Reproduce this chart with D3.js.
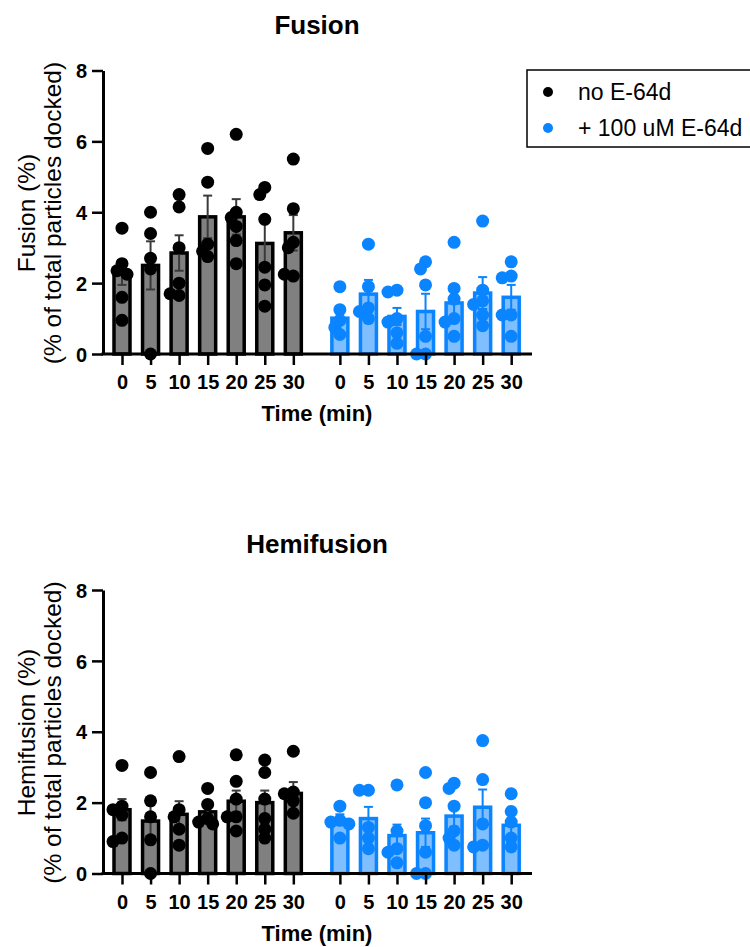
<!DOCTYPE html>
<html>
<head>
<meta charset="utf-8">
<script src="https://cdn.jsdelivr.net/npm/d3@7"></script>
<style>
  body { margin: 0; background: #fff; }
  svg { display: block; font-family: "Liberation Sans", Arial, sans-serif; }
</style>
</head>
<body>
<div id="box"></div>
<script>
// time points (min) and the two treatment groups
const times = ['0', '5', '10', '15', '20', '25', '30'];
const groups = ['no E-64d', '+ 100 uM E-64d'];
const yTicks = [0, 2, 4, 6, 8];

// Fusion, no E-64d
const fusionCtrlMean = [2.3, 2.5, 2.85, 3.87, 3.87, 3.12, 3.42];
const fusionCtrlSem = [0.35, 0.68, 0.5, 0.6, 0.5, 0.65, 0.5];
const fusionCtrlPts = [
  [3.55, 2.55, 2.35, 2.25, 1.6, 0.95],
  [4.0, 3.4, 2.7, 2.4, 0],
  [4.5, 4.15, 3.0, 2.0, 1.65, 1.7],
  [5.8, 4.85, 3.1, 2.75, 2.9],
  [6.2, 4.0, 3.85, 3.6, 3.2, 2.55],
  [4.7, 4.5, 3.8, 2.45, 1.95, 1.35],
  [5.5, 4.1, 3.15, 3.0, 2.2, 2.25]
];
// Fusion, + E-64d
const fusionE64Mean = [1.01, 1.69, 1.06, 1.2, 1.44, 1.72, 1.6];
const fusionE64Sem = [0.15, 0.4, 0.24, 0.5, 0.35, 0.45, 0.35];
const fusionE64Pts = [
  [1.9, 1.25, 0.95, 0.75, 0.55],
  [3.1, 1.9, 1.3, 1.2, 1.0],
  [1.8, 1.75, 1.0, 0.9, 0.6, 0.3],
  [2.6, 2.4, 1.95, 0.5, 0, 0],
  [3.15, 1.85, 1.55, 1.0, 0.9, 0.5],
  [3.75, 1.8, 1.5, 1.4, 1.1, 0.8],
  [2.6, 2.2, 2.15, 1.1, 1.1, 0.5]
];
// Hemifusion, no E-64d
const hemiCtrlMean = [1.8, 1.48, 1.67, 1.74, 2.04, 2.0, 2.26];
const hemiCtrlSem = [0.3, 0.45, 0.37, 0.15, 0.3, 0.34, 0.32];
const hemiCtrlPts = [
  [3.05, 1.9, 1.8, 1.65, 1.0, 0.9],
  [2.85, 2.05, 1.6, 0.95, 0],
  [3.3, 1.8, 1.6, 1.25, 0.8],
  [2.4, 1.95, 1.55, 1.45, 1.4],
  [3.35, 2.6, 2.1, 1.6, 1.6, 1.2],
  [3.2, 2.85, 2.1, 1.55, 1.25, 1.0],
  [3.45, 2.3, 2.25, 2.05, 1.7]
];
// Hemifusion, + E-64d
const hemiE64Mean = [1.52, 1.55, 1.07, 1.15, 1.62, 1.87, 1.36];
const hemiE64Sem = [0.15, 0.33, 0.31, 0.4, 0.3, 0.5, 0.3];
const hemiE64Pts = [
  [1.9, 1.5, 1.45, 1.4, 1.0],
  [2.35, 2.35, 1.3, 1.0, 0.7],
  [2.5, 1.2, 0.7, 0.6, 0.3],
  [2.85, 2.0, 1.35, 0.6, 0, 0],
  [2.55, 2.4, 1.9, 1.2, 1.0, 0.8],
  [3.75, 2.65, 1.4, 0.8, 0.75],
  [2.25, 1.75, 1.45, 1.0, 0.75]
];

const panels = [
  { title: 'Fusion', ylab: 'Fusion (%)', top: 70.5,
    series: [[fusionCtrlMean, fusionCtrlSem, fusionCtrlPts], [fusionE64Mean, fusionE64Sem, fusionE64Pts]] },
  { title: 'Hemifusion', ylab: 'Hemifusion (%)', top: 590,
    series: [[hemiCtrlMean, hemiCtrlSem, hemiCtrlPts], [hemiE64Mean, hemiE64Sem, hemiE64Pts]] }
];

const width = 750, height = 947;
const axisX = 103;
const plotH = 283.5;
const groupGap = 0.63;   // extra slots between the two groups
const barW = 16;
const dotR = 6.5;

const styles = [
  { fill: '#808080', stroke: '#000', err: '#3a3a3a', dot: '#000' },
  { fill: '#80bfff', stroke: '#0a84ff', err: '#0a84ff', dot: '#0a84ff' }
];

const svg = d3.select('#box').append('svg')
  .attr('width', width)
  .attr('height', height);

// slot index -> pixel
const slot = (g, i) => i + g * (times.length + groupGap);
const x = d3.scaleLinear()
  .domain([0, slot(1, times.length - 1)])
  .range([122, 511.2]);

// simple swarm so overlapping dots spread sideways a little
function swarm(vals, y) {
  const placed = [];
  const cand = [0, -5, 5, -9, 9];
  return vals.map(v => {
    const py = y(v);
    let off = 0;
    for (const c of cand) {
      const hit = placed.some(p => Math.hypot(p.dx - c, p.py - py) < dotR * 1.1);
      if (!hit) { off = c; break; }
    }
    placed.push({ dx: off, py: py });
    return { v: v, dx: off };
  });
}

panels.forEach(p => {
  const y = d3.scaleLinear().domain([0, 8]).range([p.top + plotH, p.top]);
  const y0 = y(0);
  const g = svg.append('g');

  // title
  g.append('text')
    .attr('x', 317).attr('y', p.top - 37)
    .attr('text-anchor', 'middle')
    .style('font-size', '26px').style('font-weight', 'bold')
    .text(p.title);

  // y title (two lines)
  const cy = p.top + 142.5;
  g.append('text')
    .attr('transform', `translate(35,${cy}) rotate(-90)`)
    .attr('text-anchor', 'middle')
    .style('font-size', '24.5px')
    .text(p.ylab);
  g.append('text')
    .attr('transform', `translate(61,${cy}) rotate(-90)`)
    .attr('text-anchor', 'middle')
    .style('font-size', '24.5px')
    .text('(% of total particles docked)');

  // bars, error bars, dots
  p.series.forEach((s, gi) => {
    const [mean, sem, pts] = s;
    const st = styles[gi];
    const grp = g.append('g');

    grp.selectAll('.bar').data(mean)
      .join('rect')
      .attr('class', 'bar')
      .attr('x', (d, i) => x(slot(gi, i)) - barW / 2)
      .attr('y', d => y(d))
      .attr('width', barW)
      .attr('height', d => y0 - y(d))
      .style('fill', st.fill)
      .style('stroke', st.stroke)
      .style('stroke-width', 3.5);

    const eb = grp.selectAll('.err').data(mean)
      .join('g').attr('class', 'err')
      .attr('transform', (d, i) => `translate(${x(slot(gi, i))},0)`);
    eb.append('line')
      .attr('y1', (d, i) => y(Math.max(0, d - sem[i])))
      .attr('y2', (d, i) => y(d + sem[i]))
      .style('stroke', st.err).style('stroke-width', 2);
    eb.append('line')
      .attr('x1', -4.5).attr('x2', 4.5)
      .attr('y1', (d, i) => y(d + sem[i]))
      .attr('y2', (d, i) => y(d + sem[i]))
      .style('stroke', st.err).style('stroke-width', 2);
    eb.append('line')
      .attr('x1', -4.5).attr('x2', 4.5)
      .attr('y1', (d, i) => y(Math.max(0, d - sem[i])))
      .attr('y2', (d, i) => y(Math.max(0, d - sem[i])))
      .style('stroke', st.err).style('stroke-width', 2);

    pts.forEach((vals, i) => {
      grp.selectAll(`.dot${i}`).data(swarm(vals, y))
        .join('circle')
        .attr('class', `dot${i}`)
        .attr('cx', d => x(slot(gi, i)) + d.dx)
        .attr('cy', d => y(d.v))
        .attr('r', dotR)
        .style('fill', st.dot);
    });
  });

  // y axis
  const ya = g.append('g')
    .attr('transform', `translate(${axisX},0)`)
    .call(d3.axisLeft(y).tickValues(yTicks).tickSize(11).tickPadding(5).tickSizeOuter(0));
  ya.select('.domain').style('stroke-width', 3);
  ya.selectAll('.tick line').style('stroke-width', 2.5);
  ya.selectAll('.tick text')
    .style('font-size', '20px').style('font-weight', 'bold')
    .style('font-family', '"Liberation Sans", Arial, sans-serif')
    .attr('dy', '0.36em');

  // x axis
  const slots = [];
  const labels = [];
  groups.forEach((gr, gi) => times.forEach((t, i) => { slots.push(slot(gi, i)); labels.push(t); }));
  const xa = g.append('g')
    .attr('transform', `translate(0,${y0})`)
    .call(d3.axisBottom(x).tickValues(slots).tickFormat((d, i) => labels[i]).tickSize(11).tickPadding(10));
  xa.select('.domain').remove();
  xa.append('line')
    .attr('x1', axisX - 1.5).attr('x2', 532)
    .style('stroke', '#000').style('stroke-width', 3);
  xa.selectAll('.tick line').style('stroke-width', 2.5);
  xa.selectAll('.tick text')
    .style('font-size', '20px').style('font-weight', 'bold')
    .style('font-family', '"Liberation Sans", Arial, sans-serif');

  g.append('text')
    .attr('x', 317).attr('y', y0 + 67)
    .attr('text-anchor', 'middle')
    .style('font-size', '22px').style('font-weight', 'bold')
    .text('Time (min)');
});

// legend
const lg = svg.append('g');
lg.append('rect')
  .attr('x', 527).attr('y', 70).attr('width', 240).attr('height', 77)
  .style('fill', 'none').style('stroke', '#000').style('stroke-width', 1.5);
groups.forEach((gr, gi) => {
  lg.append('circle')
    .attr('cx', 548).attr('cy', 92 + gi * 36).attr('r', 5)
    .style('fill', styles[gi].dot);
  lg.append('text')
    .attr('x', 578).attr('y', 100 + gi * 36)
    .style('font-size', '23px')
    .text(gr);
});
</script>
</body>
</html>
